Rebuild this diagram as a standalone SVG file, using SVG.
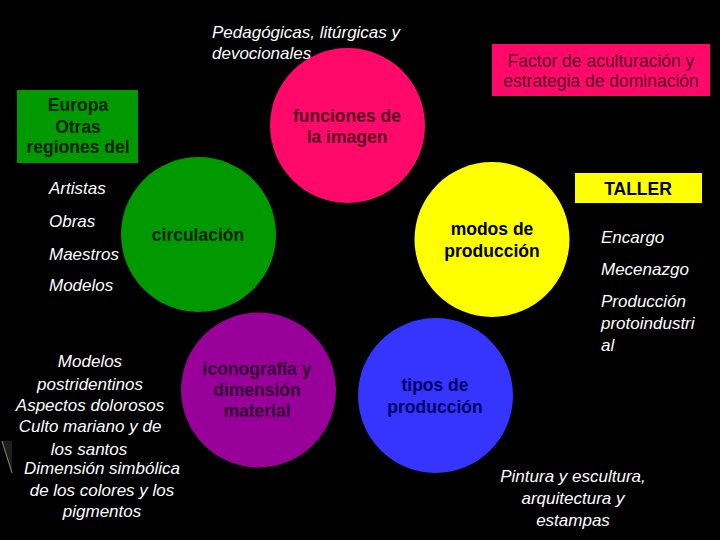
<svg xmlns="http://www.w3.org/2000/svg" width="720" height="540" viewBox="0 0 720 540">
<style>
.it{font-family:"Liberation Sans",Arial,sans-serif;font-style:italic;font-size:17px;fill:#ffffff}
.bd{font-family:"Liberation Sans",Arial,sans-serif;font-weight:bold;font-size:17.5px}
.nm{font-family:"Liberation Sans",Arial,sans-serif;font-size:17.5px}
.c{text-anchor:middle}
</style>
<rect x="0" y="0" width="720" height="540" fill="#000000"/>
<g id="connectors"/>
<g id="deco">
<polygon points="2,441 12,441 12,473" fill="#17221a"/>
<line x1="2" y1="441" x2="12" y2="473" stroke="#8a8a8a" stroke-width="1"/>
</g>
<g id="funciones">
<circle cx="347.5" cy="125.5" r="77.5" fill="#ff0a6a"/>
<text class="bd c" x="347" y="122" fill="#5a0022">funciones de</text>
<text class="bd c" x="347" y="143" fill="#5a0022">la imagen</text>
</g>
<g id="circulacion">
<circle cx="198.5" cy="234.5" r="77.5" fill="#009a00"/>
<text class="bd c" x="198" y="241" fill="#002200">circulación</text>
</g>
<g id="modos">
<circle cx="492" cy="239.5" r="77.5" fill="#ffff00"/>
<text class="bd c" x="492" y="235" fill="#000000">modos de</text>
<text class="bd c" x="492" y="257" fill="#000000">producción</text>
</g>
<g id="iconografia">
<circle cx="258.5" cy="390" r="77.5" fill="#990099"/>
<text class="bd c" x="257" y="375" fill="#330033">iconografía y</text>
<text class="bd c" x="257" y="396" fill="#330033">dimensión</text>
<text class="bd c" x="257" y="417" fill="#330033">material</text>
</g>
<g id="tipos">
<circle cx="435.5" cy="395.5" r="77.5" fill="#3535ff"/>
<text class="bd c" x="435" y="391" fill="#000066">tipos de</text>
<text class="bd c" x="435" y="413" fill="#000066">producción</text>
</g>
<g id="europa">
<rect x="17" y="90" width="121" height="73" fill="#009a00"/>
<text class="bd c" x="78" y="111" fill="#002200">Europa</text>
<text class="bd c" x="78" y="133" fill="#002200">Otras</text>
<text class="bd c" x="78" y="153" fill="#002200">regiones del</text>
</g>
<g id="factor">
<rect x="492" y="44" width="218" height="52" fill="#ff0a6a"/>
<text class="nm c" x="601" y="67" fill="#5a0022">Factor de aculturación y</text>
<text class="nm c" x="601" y="87" fill="#5a0022">estrategia de dominación</text>
</g>
<g id="taller">
<rect x="575" y="173" width="127" height="30" fill="#ffff00"/>
<text class="bd c" x="638" y="195" fill="#000000">TALLER</text>
</g>
<g id="pedagogicas">
<text class="it" x="212" y="38">Pedagógicas, litúrgicas y</text>
<text class="it" x="212" y="59">devocionales</text>
</g>
<g id="circ-list">
<text class="it" x="49" y="194">Artistas</text>
<text class="it" x="49" y="227">Obras</text>
<text class="it" x="49" y="260">Maestros</text>
<text class="it" x="49" y="291">Modelos</text>
</g>
<g id="taller-list">
<text class="it" x="601" y="243">Encargo</text>
<text class="it" x="601" y="275">Mecenazgo</text>
<text class="it" x="601" y="307">Producción</text>
<text class="it" x="601" y="329">protoindustri</text>
<text class="it" x="601" y="351">al</text>
</g>
<g id="icono-list">
<text class="it c" x="90" y="367">Modelos</text>
<text class="it c" x="90" y="390">postridentinos</text>
<text class="it c" x="90" y="411">Aspectos dolorosos</text>
<text class="it c" x="90" y="432">Culto mariano y de</text>
<text class="it c" x="89" y="455">los santos</text>
<text class="it c" x="102" y="474">Dimensión simbólica</text>
<text class="it c" x="102" y="496">de los colores y los</text>
<text class="it c" x="102" y="517">pigmentos</text>
</g>
<g id="tipos-list">
<text class="it c" x="573" y="482">Pintura y escultura,</text>
<text class="it c" x="573" y="504">arquitectura y</text>
<text class="it c" x="573" y="526">estampas</text>
</g>
</svg>
